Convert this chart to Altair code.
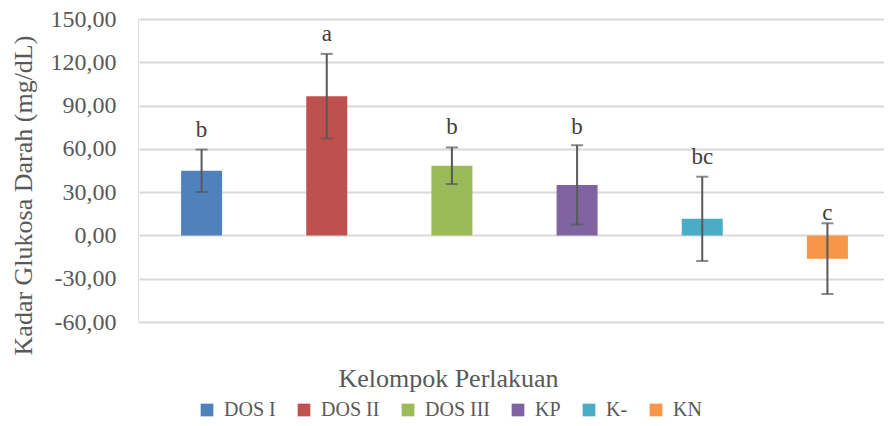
import altair as alt
import pandas as pd

groups = ["DOS I", "DOS II", "DOS III", "KP", "K-", "KN"]
means = [44.8, 96.5, 48.3, 35.0, 11.5, -16.1]
sds = [14.7, 29.3, 12.7, 27.5, 29.2, 24.5]
letters = ["b", "a", "b", "b", "bc", "c"]
letter_y = [68.4, 135.0, 70.5, 70.3, 49.5, 10.7]
colors = ["#4f81bd", "#c0504d", "#9bbb59", "#8064a2", "#4bacc6", "#f79646"]

df = pd.DataFrame({
    "group": groups,
    "mean": means,
    "lo": [m - s for m, s in zip(means, sds)],
    "hi": [m + s for m, s in zip(means, sds)],
    "letter": letters,
    "ly": letter_y,
})

FONT = "Liberation Serif"
GREY = "#595959"

xscale = alt.Scale(domain=groups, range=[1, 752], paddingInner=0, paddingOuter=0)

x = alt.X("group:N", sort=groups, scale=xscale,
          axis=alt.Axis(title="Kelompok Perlakuan", labels=False, ticks=False, domain=False,
                        titleFont=FONT, titleFontSize=26, titleFontWeight="normal",
                        titleColor=GREY, titleX=310, titleY=56, titleAnchor="start",
                        titleAlign="center", titleBaseline="middle"))

y = alt.Y("mean:Q",
          scale=alt.Scale(domain=[-60, 150], nice=False, zero=False),
          axis=alt.Axis(title="Kadar Glukosa Darah (mg/dL)", values=[-60, -30, 0, 30, 60, 90, 120, 150],
                        labelExpr="(datum.value < 0 ? '-' : '') + replace(format(abs(datum.value), '.2f'), '.', ',')",
                        labelFont=FONT, labelFontSize=24, labelColor=GREY, labelPadding=22,
                        ticks=False, domain=False, grid=True, gridColor="#d9d9d9", gridWidth=2,
                        titleFont=FONT, titleFontSize=26, titleFontWeight="normal", titleColor=GREY,
                        titleX=-115, titleY=176, titleAngle=-90, titleAlign="center",
                        titleBaseline="middle", titleAnchor="start"))

color = alt.Color("group:N", sort=groups, scale=alt.Scale(domain=groups, range=colors),
                  legend=alt.Legend(title=None, orient="none", direction="horizontal",
                                    legendX=59, legendY=381, symbolType="square", symbolSize=161,
                                    symbolStrokeWidth=0, labelFont=FONT, labelFontSize=20,
                                    labelColor=GREY, labelOffset=7, columnPadding=18, padding=0))

base = alt.Chart(df)
xg = alt.X("group:N", sort=groups, scale=xscale)

bars = base.mark_bar(size=41).encode(x=x, y=y, color=color)
rule = base.mark_rule(color=GREY, strokeWidth=2).encode(x=xg, y="lo:Q", y2="hi:Q")
cap_hi = base.mark_tick(color=GREY, thickness=2, size=12).encode(x=xg, y="hi:Q")
cap_lo = base.mark_tick(color=GREY, thickness=2, size=12).encode(x=xg, y="lo:Q")
text = base.mark_text(font=FONT, fontSize=23, color="#404040", baseline="alphabetic").encode(
    x=xg, y="ly:Q", text="letter:N")

chart = alt.layer(bars, rule, cap_hi, cap_lo, text).properties(
    width=746, height=303,
    autosize=alt.AutoSizeParams(type="none"),
    padding={"left": 130, "top": 11, "right": 0, "bottom": 96},
).configure_view(stroke=None).configure(background="white")

chart.save("out.html", embed_options={"renderer": "svg", "actions": False})
